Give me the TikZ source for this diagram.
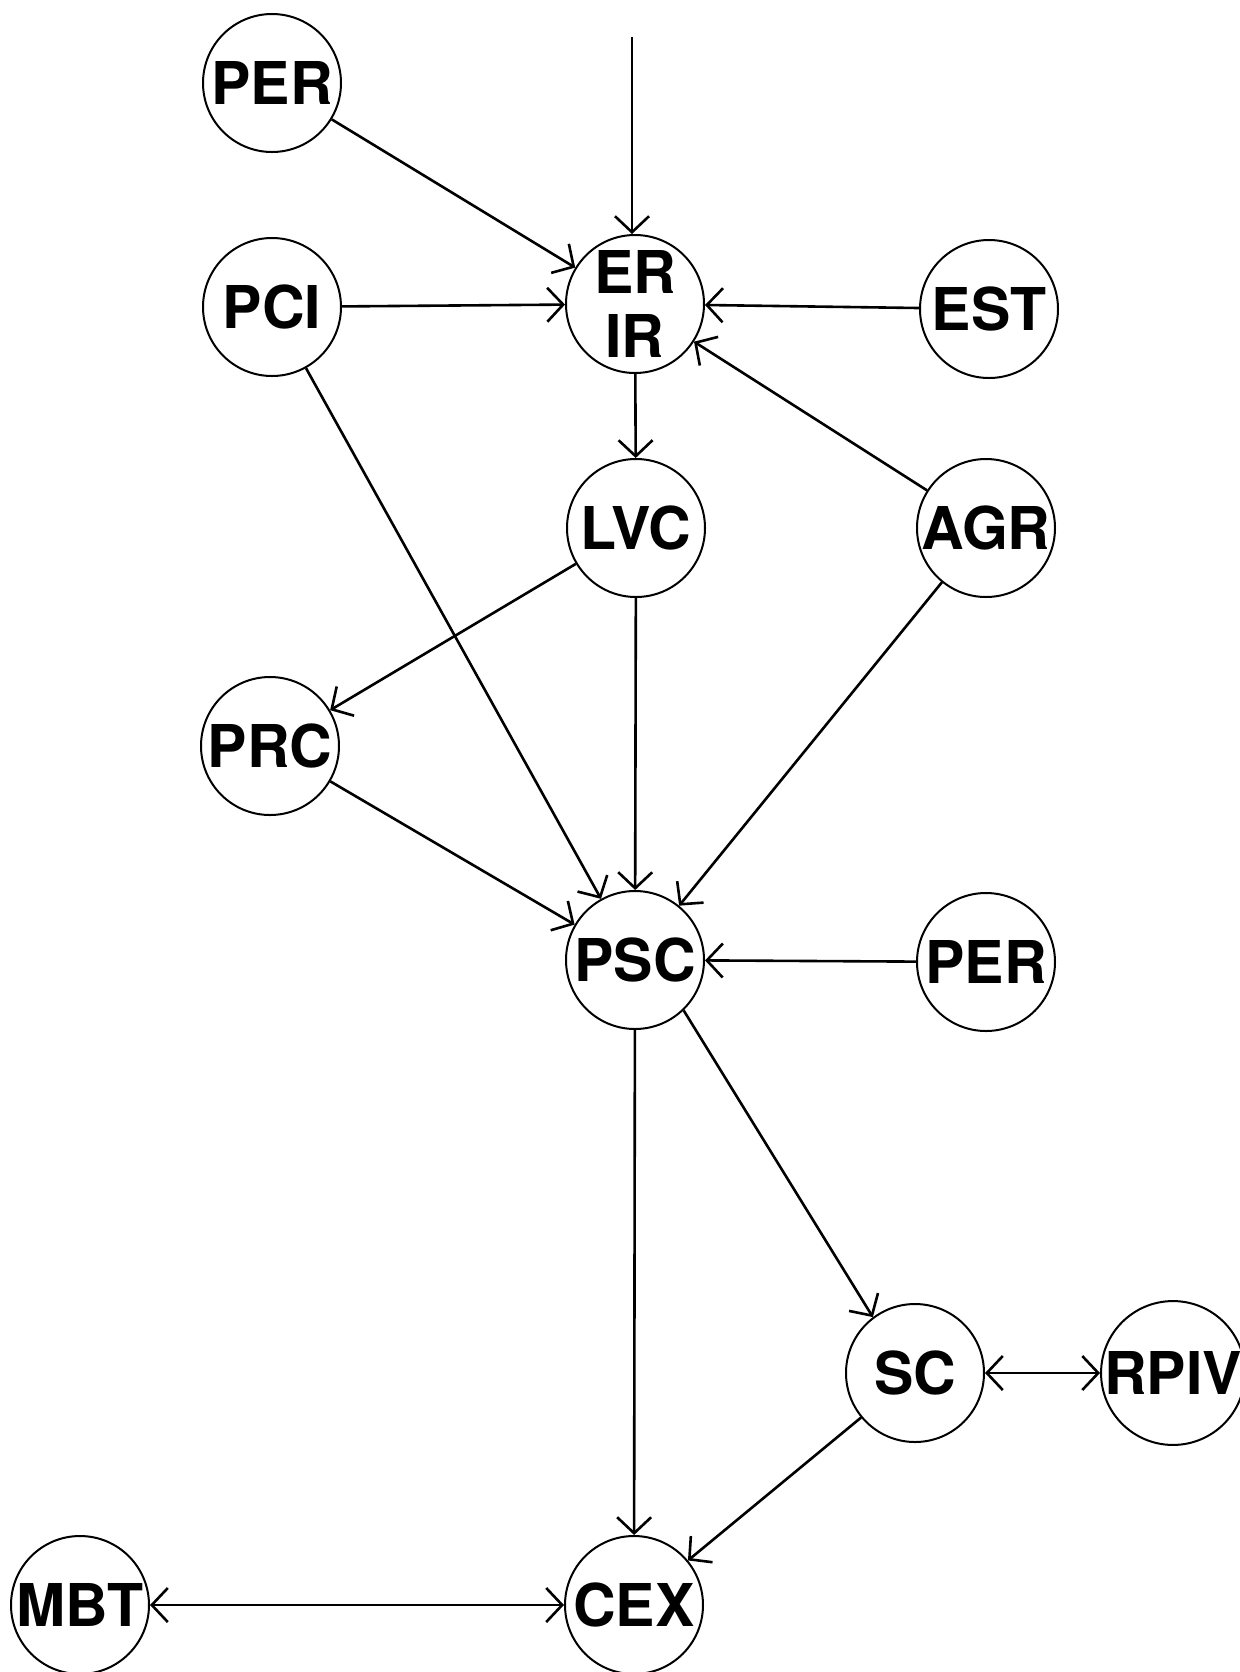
\documentclass[tikz,border=0pt]{standalone}
\usepackage{fontspec}
\newfontfamily\nodefont{TeX Gyre Heros}
\usetikzlibrary{arrows.meta}

\begin{document}
\begin{tikzpicture}[x=0.5pt,y=-0.5pt,
  state/.style={draw, circle, line width=1pt, minimum size=69pt, inner sep=0pt,
    font=\nodefont\bfseries\fontsize{29.5pt}{32pt}\selectfont, align=center},
  link/.style={line width=1.3pt, -{Straight Barb[length=8pt,width=17pt]}},
  both/.style={line width=1.3pt, {Straight Barb[length=8pt,width=17pt]}-{Straight Barb[length=8pt,width=17pt]}}]
\useasboundingbox (0,0) rectangle (1240,1672);

% nodes
\node [state] (perA) at (272,83) {PER};
\node [state] (pci) at (272,307) {PCI};
\node [state] (erir) at (635,304) {ER\\IR};
\node [state] (est) at (989,309) {EST};
\node [state] (lvc) at (636,528) {LVC};
\node [state] (agr) at (986,528) {AGR};
\node [state] (prc) at (270,746) {PRC};
\node [state] (psc) at (635,960) {PSC};
\node [state] (perB) at (986,962) {PER};
\node [state] (sc) at (915,1373) {SC};
\node [state] (rpiv) at (1173,1373) {RPIV};
\node [state] (mbt) at (80,1605) {MBT};
\node [state] (cex) at (634,1605) {CEX};
\coordinate (input) at (632,37);

% connectors
\draw [link] (input) -- (input |- erir.north);
\draw [link] (perA) -- (erir);
\draw [link] (pci) -- (erir);
\draw [link] (est) -- (erir);
\draw [link] (agr) -- (erir);
\draw [link] (erir) -- (lvc);
\draw [link] (pci) -- (psc);
\draw [link] (lvc) -- (prc);
\draw [link] (lvc) -- (psc);
\draw [link] (agr) -- (psc);
\draw [link] (prc) -- (psc);
\draw [link] (perB) -- (psc);
\draw [link] (psc) -- (cex);
\draw [link] (psc.-46) -- (sc.127);
\draw [link] (sc) -- (cex);
\draw [both] (sc) -- (rpiv);
\draw [both] (mbt) -- (cex);

\end{tikzpicture}
\end{document}
